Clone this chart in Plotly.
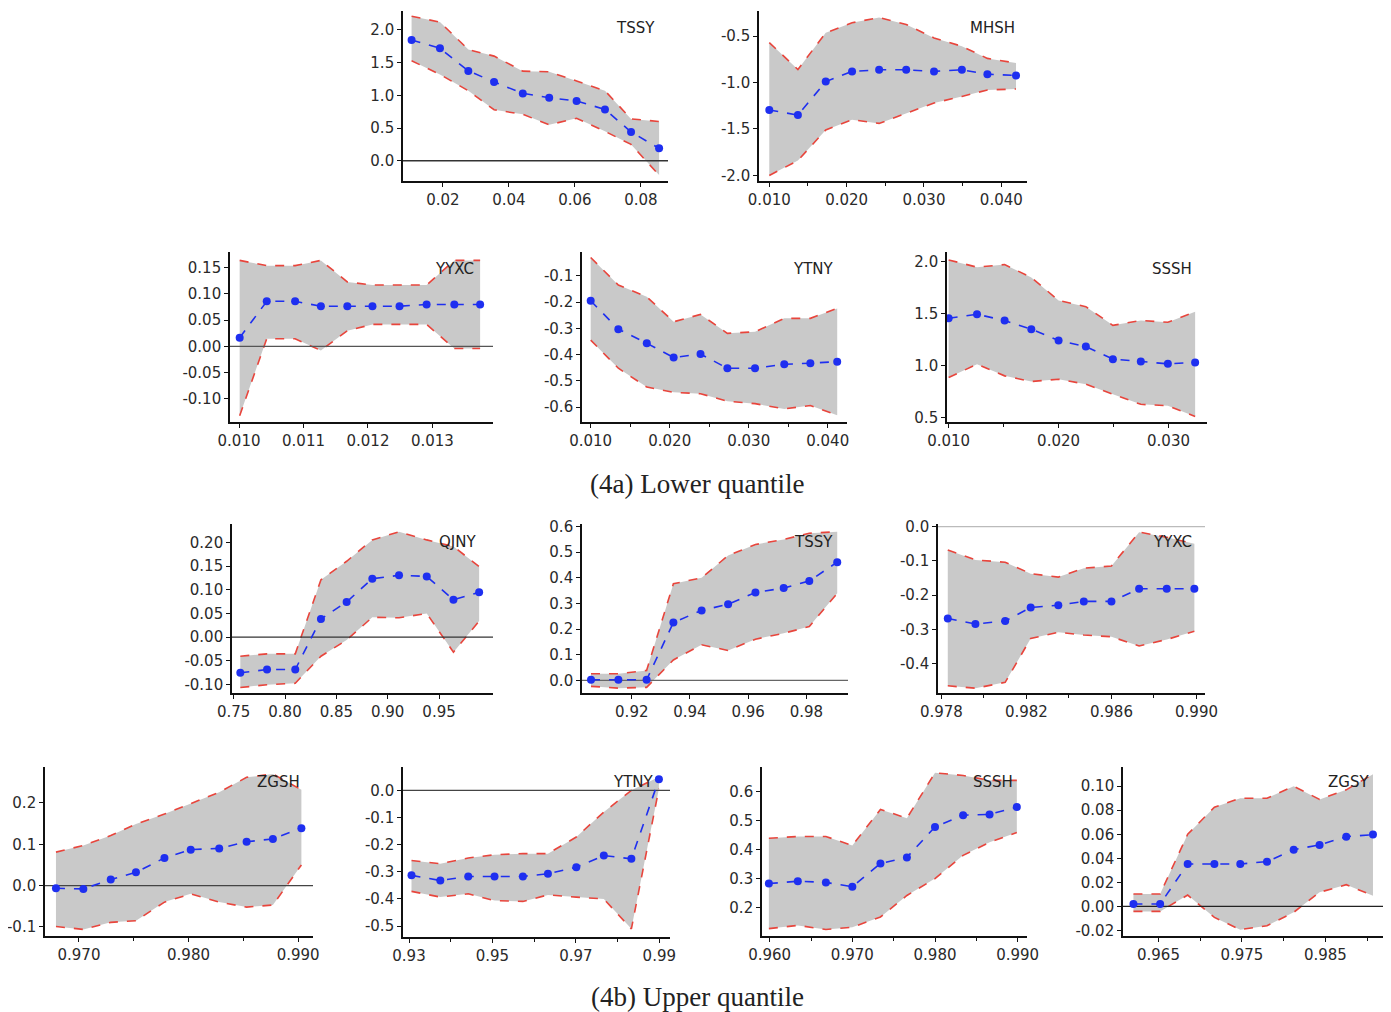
import plotly.graph_objects as go

# ---------------- data ----------------
# (4a) Lower quantile
tssy_lo_x   = [0.0105, 0.0191, 0.0277, 0.0355, 0.0442, 0.0522, 0.0605, 0.0691, 0.0770, 0.0855]
tssy_lo_mid = [1.846, 1.72, 1.374, 1.205, 1.03, 0.964, 0.913, 0.785, 0.44, 0.19]
tssy_lo_up  = [2.21, 2.12, 1.70, 1.60, 1.37, 1.36, 1.22, 1.07, 0.64, 0.60]
tssy_lo_low = [1.53, 1.32, 1.07, 0.78, 0.71, 0.55, 0.65, 0.45, 0.25, -0.22]

mhsh_lo_x   = [0.0100, 0.0137, 0.0173, 0.0207, 0.0242, 0.0277, 0.0313, 0.0349, 0.0382, 0.0419]
mhsh_lo_mid = [-1.296, -1.35, -0.99, -0.88, -0.863, -0.863, -0.88, -0.863, -0.91, -0.924]
mhsh_lo_up  = [-0.57, -0.86, -0.465, -0.357, -0.30, -0.375, -0.52, -0.61, -0.74, -0.79]
mhsh_lo_low = [-2.0, -1.84, -1.51, -1.40, -1.44, -1.33, -1.22, -1.15, -1.08, -1.07]

yyxc_lo_x   = [0.01001, 0.01043, 0.01087, 0.01127, 0.01168, 0.01207, 0.01249, 0.01291, 0.01334, 0.01374]
yyxc_lo_mid = [0.0165, 0.086, 0.086, 0.0766, 0.0766, 0.0766, 0.0766, 0.080, 0.080, 0.080]
yyxc_lo_up  = [0.164, 0.154, 0.154, 0.164, 0.123, 0.117, 0.117, 0.117, 0.164, 0.164]
yyxc_lo_low = [-0.132, 0.0146, 0.0146, -0.0076, 0.030, 0.042, 0.042, 0.042, -0.004, -0.004]

ytny_lo_x   = [0.0100, 0.0135, 0.0171, 0.0205, 0.0239, 0.0273, 0.0308, 0.0345, 0.0378, 0.0412]
ytny_lo_mid = [-0.195, -0.303, -0.357, -0.411, -0.398, -0.452, -0.452, -0.437, -0.433, -0.427]
ytny_lo_up  = [-0.03, -0.135, -0.18, -0.275, -0.247, -0.319, -0.313, -0.262, -0.262, -0.224]
ytny_lo_low = [-0.345, -0.452, -0.524, -0.544, -0.549, -0.578, -0.587, -0.607, -0.594, -0.631]

sssh_lo_x   = [0.0100, 0.01258, 0.01509, 0.01752, 0.0200, 0.02248, 0.02494, 0.02748, 0.02994, 0.03242]
sssh_lo_mid = [1.458, 1.497, 1.436, 1.353, 1.244, 1.186, 1.065, 1.043, 1.02, 1.033]
sssh_lo_up  = [2.02, 1.95, 1.975, 1.85, 1.63, 1.57, 1.39, 1.437, 1.42, 1.52]
sssh_lo_low = [0.888, 1.016, 0.904, 0.85, 0.872, 0.824, 0.728, 0.63, 0.616, 0.514]

# (4b) Upper quantile
qjny_up_x   = [0.7565, 0.7825, 0.810, 0.835, 0.860, 0.885, 0.911, 0.938, 0.964, 0.989]
qjny_up_mid = [-0.075, -0.068, -0.068, 0.0385, 0.0743, 0.1233, 0.1304, 0.128, 0.079, 0.0945]
qjny_up_up  = [-0.04, -0.035, -0.035, 0.121, 0.16, 0.205, 0.222, 0.205, 0.191, 0.149]
qjny_up_low = [-0.106, -0.10, -0.097, -0.04, -0.006, 0.042, 0.041, 0.05, -0.0315, 0.034]

tssy_up_x   = [0.906, 0.9154, 0.9251, 0.9343, 0.944, 0.9531, 0.9625, 0.9722, 0.981, 0.9906]
tssy_up_mid = [0.0026, 0.0026, 0.0026, 0.226, 0.273, 0.297, 0.343, 0.36, 0.388, 0.461]
tssy_up_up  = [0.026, 0.026, 0.039, 0.377, 0.40, 0.487, 0.53, 0.55, 0.574, 0.58]
tssy_up_low = [-0.023, -0.03, -0.027, 0.08, 0.139, 0.117, 0.161, 0.184, 0.21, 0.34]

yyxc_up_x   = [0.9783, 0.9796, 0.9810, 0.9822, 0.9835, 0.9847, 0.9860, 0.9873, 0.9886, 0.9899]
yyxc_up_mid = [-0.268, -0.284, -0.275, -0.236, -0.229, -0.218, -0.218, -0.181, -0.181, -0.181]
yyxc_up_up  = [-0.068, -0.097, -0.104, -0.137, -0.147, -0.121, -0.115, -0.016, -0.031, -0.05]
yyxc_up_low = [-0.464, -0.471, -0.454, -0.326, -0.308, -0.316, -0.321, -0.348, -0.329, -0.305]

zgsh_up_x   = [0.9679, 0.9704, 0.9729, 0.9752, 0.9778, 0.9802, 0.9828, 0.9853, 0.9877, 0.9903]
zgsh_up_mid = [-0.0065, -0.008, 0.0145, 0.032, 0.067, 0.087, 0.090, 0.106, 0.113, 0.139]
zgsh_up_up  = [0.081, 0.097, 0.121, 0.149, 0.173, 0.198, 0.226, 0.262, 0.27, 0.232]
zgsh_up_low = [-0.099, -0.106, -0.089, -0.085, -0.04, -0.02, -0.04, -0.052, -0.047, 0.05]

ytny_up_x   = [0.9306, 0.9375, 0.9442, 0.9505, 0.9573, 0.9633, 0.9701, 0.9767, 0.9833, 0.9899]
ytny_up_mid = [-0.313, -0.332, -0.317, -0.317, -0.317, -0.307, -0.283, -0.24, -0.252, 0.0405]
ytny_up_up  = [-0.258, -0.27, -0.249, -0.237, -0.233, -0.233, -0.172, -0.08, 0.0, 0.049]
ytny_up_low = [-0.372, -0.393, -0.381, -0.406, -0.409, -0.385, -0.393, -0.40, -0.51, 0.006]

sssh_up_x   = [0.9599, 0.9634, 0.9668, 0.9700, 0.9734, 0.9766, 0.9800, 0.9834, 0.9866, 0.9899]
sssh_up_mid = [0.283, 0.291, 0.287, 0.272, 0.352, 0.373, 0.478, 0.518, 0.521, 0.546]
sssh_up_up  = [0.439, 0.445, 0.445, 0.414, 0.538, 0.508, 0.664, 0.655, 0.638, 0.638]
sssh_up_low = [0.128, 0.139, 0.125, 0.133, 0.168, 0.242, 0.30, 0.38, 0.425, 0.459]

zgsy_up_x   = [0.9620, 0.9652, 0.9685, 0.9717, 0.9748, 0.9780, 0.9812, 0.9843, 0.9875, 0.9907]
zgsy_up_mid = [0.0019, 0.0019, 0.0353, 0.0353, 0.0353, 0.0372, 0.0472, 0.0511, 0.058, 0.0597]
zgsy_up_up  = [0.0103, 0.0103, 0.060, 0.0825, 0.090, 0.090, 0.100, 0.089, 0.097, 0.11]
zgsy_up_low = [-0.0042, -0.0042, 0.0094, -0.0092, -0.0194, -0.0161, -0.005, 0.0117, 0.018, 0.0089]

captions = ["(4a) Lower quantile", "(4b) Upper quantile"]

# ---------------- layout helpers ----------------
PAGE_W, PAGE_H = 1391, 1012
OFF = 8                      # default body margin of the html page
W, H = PAGE_W - OFF, PAGE_H - OFF

def fx(px):   # page pixel -> paper fraction (x)
    return (px - OFF) / W

def fy(py):   # page pixel -> paper fraction (y)
    return 1 - (py - OFF) / H

def fmt(vals, nd):
    return [f"{v:.{nd}f}" for v in vals]

panels = [
    dict(name="TSSY", x=tssy_lo_x, mid=tssy_lo_mid, up=tssy_lo_up, lo=tssy_lo_low,
         box=(403, 668, 11, 181), xr=[0.0079, 0.0882], yr=[-0.31, 2.29],
         xt=[0.02, 0.04, 0.06, 0.08], xnd=2, yt=[0.0, 0.5, 1.0, 1.5, 2.0], ynd=1,
         minor=None, lab=(635, 28), zc="#333333"),
    dict(name="MHSH", x=mhsh_lo_x, mid=mhsh_lo_mid, up=mhsh_lo_up, lo=mhsh_lo_low,
         box=(759, 1027, 11, 181), xr=[0.00867, 0.04332], yr=[-2.06, -0.23],
         xt=[0.010, 0.020, 0.030, 0.040], xnd=3, yt=[-2.0, -1.5, -1.0, -0.5], ynd=1,
         minor=0.005, lab=(992, 28), zc=None),
    dict(name="YYXC", x=yyxc_lo_x, mid=yyxc_lo_mid, up=yyxc_lo_up, lo=yyxc_lo_low,
         box=(230, 493, 252, 422), xr=[0.00986, 0.01394], yr=[-0.144, 0.18],
         xt=[0.010, 0.011, 0.012, 0.013], xnd=3, yt=[-0.10, -0.05, 0.0, 0.05, 0.10, 0.15], ynd=2,
         minor=None, lab=(455, 269), zc="#555555"),
    dict(name="YTNY", x=ytny_lo_x, mid=ytny_lo_mid, up=ytny_lo_up, lo=ytny_lo_low,
         box=(582, 847, 252, 422), xr=[0.0089, 0.04244], yr=[-0.657, -0.009],
         xt=[0.010, 0.020, 0.030, 0.040], xnd=3, yt=[-0.6, -0.5, -0.4, -0.3, -0.2, -0.1], ynd=1,
         minor=0.005, lab=(813, 269), zc=None),
    dict(name="SSSH", x=sssh_lo_x, mid=sssh_lo_mid, up=sssh_lo_up, lo=sssh_lo_low,
         box=(947, 1207, 252, 422), xr=[0.00985, 0.0335], yr=[0.46, 2.096],
         xt=[0.010, 0.020, 0.030], xnd=3, yt=[0.5, 1.0, 1.5, 2.0], ynd=1,
         minor=0.005, lab=(1172, 269), zc=None),
    dict(name="QJNY", x=qjny_up_x, mid=qjny_up_mid, up=qjny_up_up, lo=qjny_up_low,
         box=(232, 493, 524, 693), xr=[0.7484, 1.0025], yr=[-0.1175, 0.2385],
         xt=[0.75, 0.80, 0.85, 0.90, 0.95], xnd=2, yt=[-0.10, -0.05, 0.0, 0.05, 0.10, 0.15, 0.20], ynd=2,
         minor=None, lab=(457, 542), zc="#333333"),
    dict(name="TSSY", x=tssy_up_x, mid=tssy_up_mid, up=tssy_up_up, lo=tssy_up_low,
         box=(582, 848, 524, 693), xr=[0.9029, 0.9943], yr=[-0.049, 0.61],
         xt=[0.92, 0.94, 0.96, 0.98], xnd=2, yt=[0.0, 0.1, 0.2, 0.3, 0.4, 0.5, 0.6], ynd=1,
         minor=None, lab=(813, 542), zc="#666666"),
    dict(name="YYXC", x=yyxc_up_x, mid=yyxc_up_mid, up=yyxc_up_up, lo=yyxc_up_low,
         box=(938, 1205, 524, 693), xr=[0.97784, 0.9904], yr=[-0.485, 0.0077],
         xt=[0.978, 0.982, 0.986, 0.990], xnd=3, yt=[-0.4, -0.3, -0.2, -0.1, 0.0], ynd=1,
         minor=0.002, lab=(1172, 542), zc="#bbbbbb"),
    dict(name="ZGSH", x=zgsh_up_x, mid=zgsh_up_mid, up=zgsh_up_up, lo=zgsh_up_low,
         box=(45, 313, 767, 936), xr=[0.9669, 0.99136], yr=[-0.122, 0.287],
         xt=[0.970, 0.980, 0.990], xnd=3, yt=[-0.1, 0.0, 0.1, 0.2], ynd=1,
         minor=0.005, lab=(278, 782), zc="#444444"),
    dict(name="YTNY", x=ytny_up_x, mid=ytny_up_mid, up=ytny_up_up, lo=ytny_up_low,
         box=(403, 670, 767, 937), xr=[0.92856, 0.99256], yr=[-0.54, 0.086],
         xt=[0.93, 0.95, 0.97, 0.99], xnd=2, yt=[-0.5, -0.4, -0.3, -0.2, -0.1, 0.0], ynd=1,
         minor=0.01, lab=(633, 782), zc="#444444"),
    dict(name="SSSH", x=sssh_up_x, mid=sssh_up_mid, up=sssh_up_up, lo=sssh_up_low,
         box=(762, 1027, 767, 936), xr=[0.95907, 0.99113], yr=[0.1026, 0.684],
         xt=[0.960, 0.970, 0.980, 0.990], xnd=3, yt=[0.2, 0.3, 0.4, 0.5, 0.6], ynd=1,
         minor=0.005, lab=(993, 782), zc=None),
    dict(name="ZGSY", x=zgsy_up_x, mid=zgsy_up_mid, up=zgsy_up_up, lo=zgsy_up_low,
         box=(1123, 1385, 767, 936), xr=[0.96075, 0.99214], yr=[-0.0247, 0.116],
         xt=[0.965, 0.975, 0.985], xnd=3, yt=[-0.02, 0.0, 0.02, 0.04, 0.06, 0.08, 0.10], ynd=2,
         minor=0.005, lab=(1348, 782), zc="#222222"),
]

FILL = "#c9c9c9"
RED = "#e8453c"
BLUE = "#1e2ff0"
TICKFONT = dict(family="DejaVu Sans, Verdana, sans-serif", size=15, color="#2a2a2a")
LABFONT = dict(family="DejaVu Sans, Verdana, sans-serif", size=15, color="#222222")

fig = go.Figure()
layout = dict(width=W, height=H, margin=dict(l=0, r=0, t=0, b=0, pad=0, autoexpand=False),
              paper_bgcolor="white", plot_bgcolor="white", showlegend=False,
              annotations=[])

for i, p in enumerate(panels):
    n = "" if i == 0 else str(i + 1)
    xa, ya = "x" + n, "y" + n
    l, r, t, b = p["box"]
    xdom = [max(0.0, fx(l)), min(1.0, fx(r))]
    ydom = [max(0.0, fy(b)), min(1.0, fy(t))]

    # band: upper then lower filled to it
    fig.add_trace(go.Scatter(x=p["x"], y=p["up"], mode="lines", xaxis=xa, yaxis=ya,
                             line=dict(color=RED, width=1.6, dash="dash"), hoverinfo="skip"))
    fig.add_trace(go.Scatter(x=p["x"], y=p["lo"], mode="lines", xaxis=xa, yaxis=ya,
                             fill="tonexty", fillcolor=FILL,
                             line=dict(color=RED, width=1.6, dash="dash"), hoverinfo="skip"))
    # zero reference line across the plot area
    if p["zc"] is not None:
        fig.add_trace(go.Scatter(x=p["xr"], y=[0, 0], mode="lines", xaxis=xa, yaxis=ya,
                                 line=dict(color=p["zc"], width=1.3), hoverinfo="skip"))
    # estimate
    fig.add_trace(go.Scatter(x=p["x"], y=p["mid"], mode="lines+markers", xaxis=xa, yaxis=ya,
                             line=dict(color=BLUE, width=1.6, dash="dash"),
                             marker=dict(color=BLUE, size=8)))

    xaxis = dict(domain=xdom, range=p["xr"], anchor=ya, showgrid=False, zeroline=False,
                 automargin=False,
                 showline=True, linecolor="#111111", linewidth=1.6,
                 ticks="outside", ticklen=4, tickwidth=1.2, tickcolor="#111111",
                 tickmode="array", tickvals=p["xt"], ticktext=fmt(p["xt"], p["xnd"]),
                 tickfont=TICKFONT)
    if p["minor"]:
        xaxis["minor"] = dict(ticks="outside", ticklen=3, tickcolor="#111111",
                              dtick=p["minor"], tick0=p["xt"][0], showgrid=False)
    yaxis = dict(domain=ydom, range=p["yr"], anchor=xa, showgrid=False, zeroline=False,
                 automargin=False,
                 showline=True, linecolor="#111111", linewidth=1.6,
                 ticks="outside", ticklen=4, tickwidth=1.2, tickcolor="#111111",
                 tickmode="array", tickvals=p["yt"], ticktext=fmt(p["yt"], p["ynd"]),
                 tickfont=TICKFONT)
    layout["xaxis" + n] = xaxis
    layout["yaxis" + n] = yaxis

    lx, ly = p["lab"]
    layout["annotations"].append(dict(
        text=p["name"], x=fx(lx), y=fy(ly), xref="paper", yref="paper",
        xanchor="center", yanchor="middle", showarrow=False, font=LABFONT))

for txt, cy in zip(captions, [484, 997]):
    layout["annotations"].append(dict(
        text=txt, x=fx(697), y=fy(cy), xref="paper", yref="paper",
        xanchor="center", yanchor="middle", showarrow=False,
        font=dict(family="Liberation Serif, Times New Roman, serif", size=27, color="#222222")))

fig.update_layout(**layout)
fig.write_html("out.html")
